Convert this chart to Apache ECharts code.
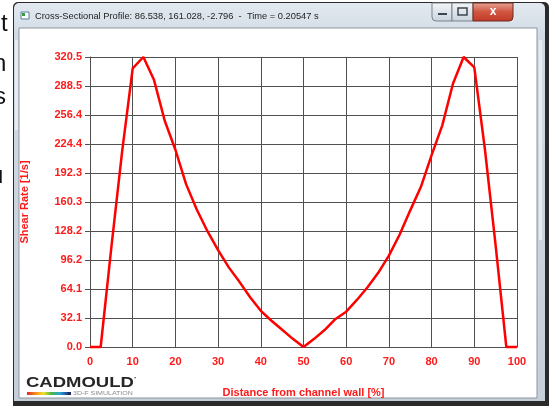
<!DOCTYPE html>
<html>
<head>
<meta charset="utf-8">
<script src="https://cdn.jsdelivr.net/npm/echarts@6/dist/echarts.min.js"></script>
<style>
  html, body { margin: 0; padding: 0; background: #fff; }
  #chart { width: 549px; height: 406px; }
</style>
</head>
<body>
<div id="chart"></div>
<script>
// distance from channel wall [%]
const xValues = [0, 2.5, 5, 7.5, 10, 12.5, 15, 17.5, 20, 22.5, 25, 27.5, 30, 32.5, 35, 37.5, 40, 42.5, 45, 47.5,
  50, 52.5, 55, 57.5, 60, 62.5, 65, 67.5, 70, 72.5, 75, 77.5, 80, 82.5, 85, 87.5, 90, 92.5, 95, 97.5, 100];
// shear rate [1/s]
const shearRate = [0, 0, 110, 215, 308, 320.5, 295, 250, 218, 180, 152, 128, 107, 88, 72, 55, 40, 29, 19, 9,
  0, 9, 19, 31, 39, 52, 66, 82, 101, 124, 151, 177, 212, 245, 291, 320.5, 309, 218, 112, 0, 0];
const yTickLabels = ['0.0', '32.1', '64.1', '96.2', '128.2', '160.3', '192.3', '224.4', '256.4', '288.5', '320.5'];
const xTickLabels = ['0', '10', '20', '30', '40', '50', '60', '70', '80', '90', '100'];
const yMax = 320.5;
const yStep = 32.05;

const titleText = 'Cross-Sectional Profile: 86.538, 161.028, -2.796  -  Time = 0.20547 s';
const red = '#ff1a1a';
const gridColor = '#505050';

const chart = echarts.init(document.getElementById('chart'));

const lineData = xValues.map((x, i) => [x, shearRate[i]]);

chart.setOption({
  backgroundColor: '#ffffff',
  animation: false,
  graphic: [
    // bits of the document behind the window
    { type: 'text', x: 1, y: 24, z: -10, style: { text: 't', fill: '#111', font: '24px "Liberation Sans"', textVerticalAlign: 'middle', verticalAlign: 'middle' } },
    { type: 'text', x: -7, y: 64, z: -10, style: { text: 'n', fill: '#111', font: '24px "Liberation Sans"', textVerticalAlign: 'middle', verticalAlign: 'middle' } },
    { type: 'text', x: -6, y: 97, z: -10, style: { text: 's', fill: '#111', font: '24px "Liberation Sans"', textVerticalAlign: 'middle', verticalAlign: 'middle' } },
    { type: 'text', x: -10, y: 176, z: -10, style: { text: 'u', fill: '#111', font: '24px "Liberation Sans"', textVerticalAlign: 'middle', verticalAlign: 'middle' } },
    // window frame
    { type: 'rect', z: -10, shape: { x: 13, y: 2, width: 536, height: 404, r: [5, 5, 0, 0] }, style: { fill: '#2a2a2a' } },
    { type: 'rect', z: -10, shape: { x: 14, y: 3, width: 531, height: 398, r: [5, 5, 0, 0] },
      style: { fill: new echarts.graphic.LinearGradient(0, 0, 0, 1, [{ offset: 0, color: '#e3e9f0' }, { offset: 0.08, color: '#d2dbe5' }, { offset: 1, color: '#c6ced8' }]) } },
    { type: 'rect', z: -10, shape: { x: 15, y: 40, width: 3, height: 90 }, style: { fill: '#e8ecf0' } },
    { type: 'rect', z: -10, shape: { x: 539, y: 40, width: 3, height: 200 }, style: { fill: '#e8ecf0' } },
    { type: 'rect', z: -10, shape: { x: 19, y: 28, width: 518, height: 370 }, style: { fill: '#ffffff', stroke: '#8d959e', lineWidth: 1 } },
    // title bar
    { type: 'rect', z: -10, shape: { x: 21, y: 12, width: 8, height: 7 }, style: { fill: '#ffffff', stroke: '#5b7c9c', lineWidth: 1 } },
    { type: 'rect', z: -10, shape: { x: 22, y: 13, width: 3, height: 3 }, style: { fill: '#3a9a4a' } },
    { type: 'text', x: 35, y: 16, z: -10, style: { text: titleText, fill: '#1e1e1e', font: '9.3px "Liberation Sans"', textVerticalAlign: 'middle', verticalAlign: 'middle' } },
    { type: 'rect', z: -10, shape: { x: 432, y: 3, width: 20, height: 18, r: [0, 0, 0, 4] },
      style: { fill: new echarts.graphic.LinearGradient(0, 0, 0, 1, [{ offset: 0, color: '#f4f6f8' }, { offset: 1, color: '#c9d2dc' }]), stroke: '#7b838d', lineWidth: 1 } },
    { type: 'rect', z: -10, shape: { x: 438, y: 13, width: 9, height: 2 }, style: { fill: '#3c4650' } },
    { type: 'rect', z: -10, shape: { x: 452, y: 3, width: 21, height: 18 },
      style: { fill: new echarts.graphic.LinearGradient(0, 0, 0, 1, [{ offset: 0, color: '#f4f6f8' }, { offset: 1, color: '#c9d2dc' }]), stroke: '#7b838d', lineWidth: 1 } },
    { type: 'rect', z: -10, shape: { x: 458, y: 8, width: 9, height: 7 }, style: { fill: 'none', stroke: '#3c4650', lineWidth: 1.5 } },
    { type: 'rect', z: -10, shape: { x: 473, y: 3, width: 40, height: 18, r: [0, 0, 4, 0] },
      style: { fill: new echarts.graphic.LinearGradient(0, 0, 0, 1, [{ offset: 0, color: '#e7a69a' }, { offset: 0.5, color: '#d0553f' }, { offset: 1, color: '#c23a26' }]), stroke: '#6e2a20', lineWidth: 1 } },
    { type: 'text', x: 493, y: 12, z: -10, style: { text: 'x', fill: '#ffffff', font: 'bold 12px "Liberation Sans"', textAlign: 'center', align: 'center', textVerticalAlign: 'middle', verticalAlign: 'middle' } },
    // CADMOULD logo
    { type: 'text', x: 26, y: 383, scaleX: 1.32, z: 10, style: { text: 'CADMOULD', fill: '#262626', font: 'bold 14px "Liberation Sans"', textVerticalAlign: 'middle', verticalAlign: 'middle' } },
    { type: 'text', x: 134, y: 378, z: 10, style: { text: '\u00b7', fill: '#262626', font: 'bold 8px "Liberation Sans"', textVerticalAlign: 'middle', verticalAlign: 'middle' } },
    { type: 'rect', z: 10, shape: { x: 27, y: 392, width: 41, height: 3 },
      style: { fill: new echarts.graphic.LinearGradient(0, 0, 1, 0, [
        { offset: 0, color: '#e0282a' }, { offset: 0.2, color: '#f28a1e' }, { offset: 0.4, color: '#f3e12a' },
        { offset: 0.6, color: '#48b548' }, { offset: 0.8, color: '#2aa6d8' }, { offset: 1, color: '#1c3d8f' }]) } },
    { type: 'rect', z: 10, shape: { x: 68, y: 392, width: 3, height: 3 }, style: { fill: '#1a2a5e' } },
    { type: 'text', x: 73, y: 393.5, scaleX: 1.4, z: 10, style: { text: '3D-F SIMULATION', fill: '#8a8a8a', font: '5px "Liberation Sans"', textVerticalAlign: 'middle', verticalAlign: 'middle' } }
  ],
  grid: {
    left: 90,
    right: 32,
    top: 57,
    bottom: 59
  },
  xAxis: {
    type: 'value',
    min: 0,
    max: 100,
    interval: 10,
    name: 'Distance from channel wall [%]',
    nameLocation: 'middle',
    nameGap: 40,
    nameTextStyle: { color: red, fontSize: 11, fontWeight: 'bold', fontFamily: 'Liberation Sans' },
    axisLine: { lineStyle: { color: gridColor, width: 1 } },
    axisTick: { show: false },
    axisLabel: {
      color: red,
      fontSize: 11,
      fontWeight: 'bold',
      fontFamily: 'Liberation Sans',
      margin: 9,
      formatter: (v) => xTickLabels[Math.round(v / 10)]
    },
    splitLine: { show: true, lineStyle: { color: gridColor, width: 1 } }
  },
  yAxis: {
    type: 'value',
    min: 0,
    max: yMax,
    interval: yStep,
    name: 'Shear Rate [1/s]',
    nameLocation: 'middle',
    nameGap: 60,
    nameTextStyle: { color: red, fontSize: 11, fontWeight: 'bold', fontFamily: 'Liberation Sans' },
    axisLine: { show: true, lineStyle: { color: gridColor, width: 1 } },
    axisTick: { show: true, length: 5, lineStyle: { color: gridColor } },
    axisLabel: {
      color: red,
      fontSize: 11,
      fontWeight: 'bold',
      fontFamily: 'Liberation Sans',
      margin: 8,
      formatter: (v) => yTickLabels[Math.round(v / yStep)]
    },
    splitLine: { show: true, lineStyle: { color: gridColor, width: 1 } }
  },
  series: [
    {
      name: 'Shear Rate',
      type: 'line',
      data: lineData,
      symbol: 'none',
      smooth: false,
      clip: false,
      lineStyle: { color: '#ff0000', width: 2.5 },
      z: 5
    }
  ]
});
</script>
</body>
</html>
